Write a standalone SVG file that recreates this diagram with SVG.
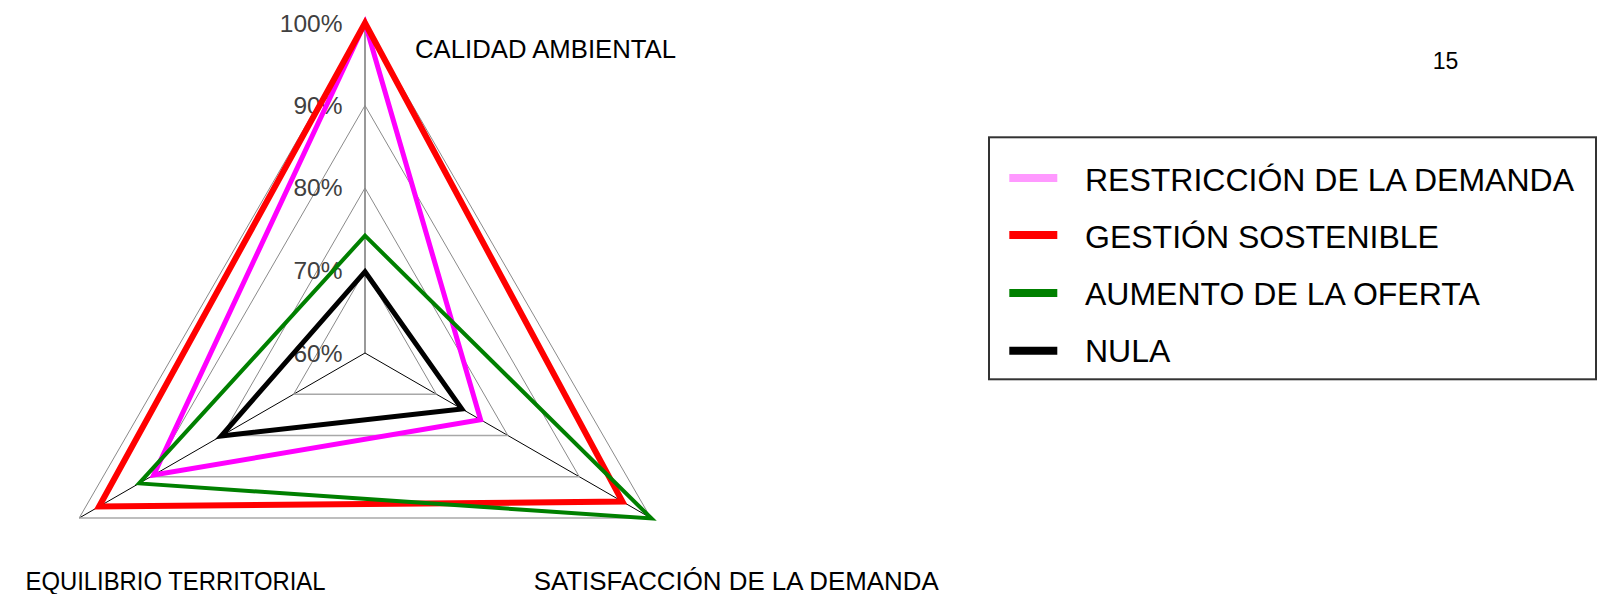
<svg xmlns="http://www.w3.org/2000/svg" width="1600" height="594" viewBox="0 0 1600 594">
<style>
  text { font-family: "Liberation Sans", Arial, sans-serif; }
  .pct { font-size: 24.5px; fill: #404040; text-anchor: end; }
  .axl { font-size: 25.5px; fill: #000; }
  .leg { font-size: 32px; fill: #000; }
  .ring { fill: none; stroke: #8a8a8a; stroke-width: 1; }
  .base { stroke: #a8a8a8; stroke-width: 1.6; }
  .axis { stroke: #000; stroke-width: 1; }
  .vaxis { stroke: #808080; stroke-width: 1.6; }
  .s { fill: none; stroke-linejoin: miter; stroke-miterlimit: 20; }
</style>
<rect width="1600" height="594" fill="#fff"/>
<g id="grid">
  <line class="vaxis" x1="365" y1="353" x2="365" y2="23"/>
  <line class="axis" x1="365" y1="353" x2="79.2" y2="518"/>
  <line class="axis" x1="365" y1="353" x2="650.8" y2="518"/>
  <polyline class="ring" points="293.6,394.25 365,270.5 436.4,394.25"/>
  <polyline class="ring" points="222.1,435.5 365,188 507.9,435.5"/>
  <polyline class="ring" points="150.7,476.75 365,105.5 579.3,476.75"/>
  <polyline class="ring" points="79.2,518 365,23 650.8,518"/>
  <line class="base" x1="293.6" y1="394.25" x2="436.4" y2="394.25"/>
  <line class="base" x1="222.1" y1="435.5" x2="507.9" y2="435.5"/>
  <line class="base" x1="150.7" y1="476.75" x2="579.3" y2="476.75"/>
  <line class="base" x1="79.2" y1="518" x2="650.8" y2="518"/>
</g>
<g id="scale-labels">
  <text class="pct" x="342.5" y="31.5">100%</text>
  <text class="pct" x="342.5" y="114">90%</text>
  <text class="pct" x="342.5" y="196">80%</text>
  <text class="pct" x="342.5" y="279">70%</text>
  <text class="pct" x="342.5" y="361.5">60%</text>
</g>
<g id="axis-labels">
  <text class="axl" x="415" y="57.5" textLength="261" lengthAdjust="spacingAndGlyphs">CALIDAD AMBIENTAL</text>
  <text class="axl" x="25.5" y="589.5" textLength="300" lengthAdjust="spacingAndGlyphs">EQUILIBRIO TERRITORIAL</text>
  <text class="axl" x="533.7" y="589.5" textLength="405" lengthAdjust="spacingAndGlyphs">SATISFACCIÓN DE LA DEMANDA</text>
</g>
<g id="series">
  <polygon id="restriccion" class="s" stroke="#ff00ff" stroke-width="5" points="365,23 480.6,419.8 153.7,475"/>
  <polygon id="gestion" class="s" stroke="#ff0000" stroke-width="6" points="365,23 622.4,501.6 99.1,506.5"/>
  <polygon id="aumento" class="s" stroke="#008000" stroke-width="4" points="365,235.7 651.5,518.5 139.1,483.4"/>
  <polygon id="nula" class="s" stroke="#000000" stroke-width="5" points="365,271.7 461.8,408.9 221.2,436"/>
</g>
<text id="page-number" x="1432.7" y="69.3" style="font-size:23px">15</text>
<g id="legend">
  <rect x="989" y="137.3" width="607" height="242" fill="none" stroke="#333" stroke-width="2"/>
  <line x1="1009.3" y1="178" x2="1057.3" y2="178" stroke="#ff99ff" stroke-width="8"/>
  <line x1="1009.3" y1="235" x2="1057.3" y2="235" stroke="#ff0000" stroke-width="8"/>
  <line x1="1009.3" y1="293" x2="1057.3" y2="293" stroke="#008000" stroke-width="8"/>
  <line x1="1009.3" y1="350.7" x2="1057.3" y2="350.7" stroke="#000000" stroke-width="8"/>
  <text class="leg" x="1085" y="190.5">RESTRICCIÓN DE LA DEMANDA</text>
  <text class="leg" x="1085" y="247.7">GESTIÓN SOSTENIBLE</text>
  <text class="leg" x="1085" y="305">AUMENTO DE LA OFERTA</text>
  <text class="leg" x="1085" y="362.3">NULA</text>
</g>
</svg>
